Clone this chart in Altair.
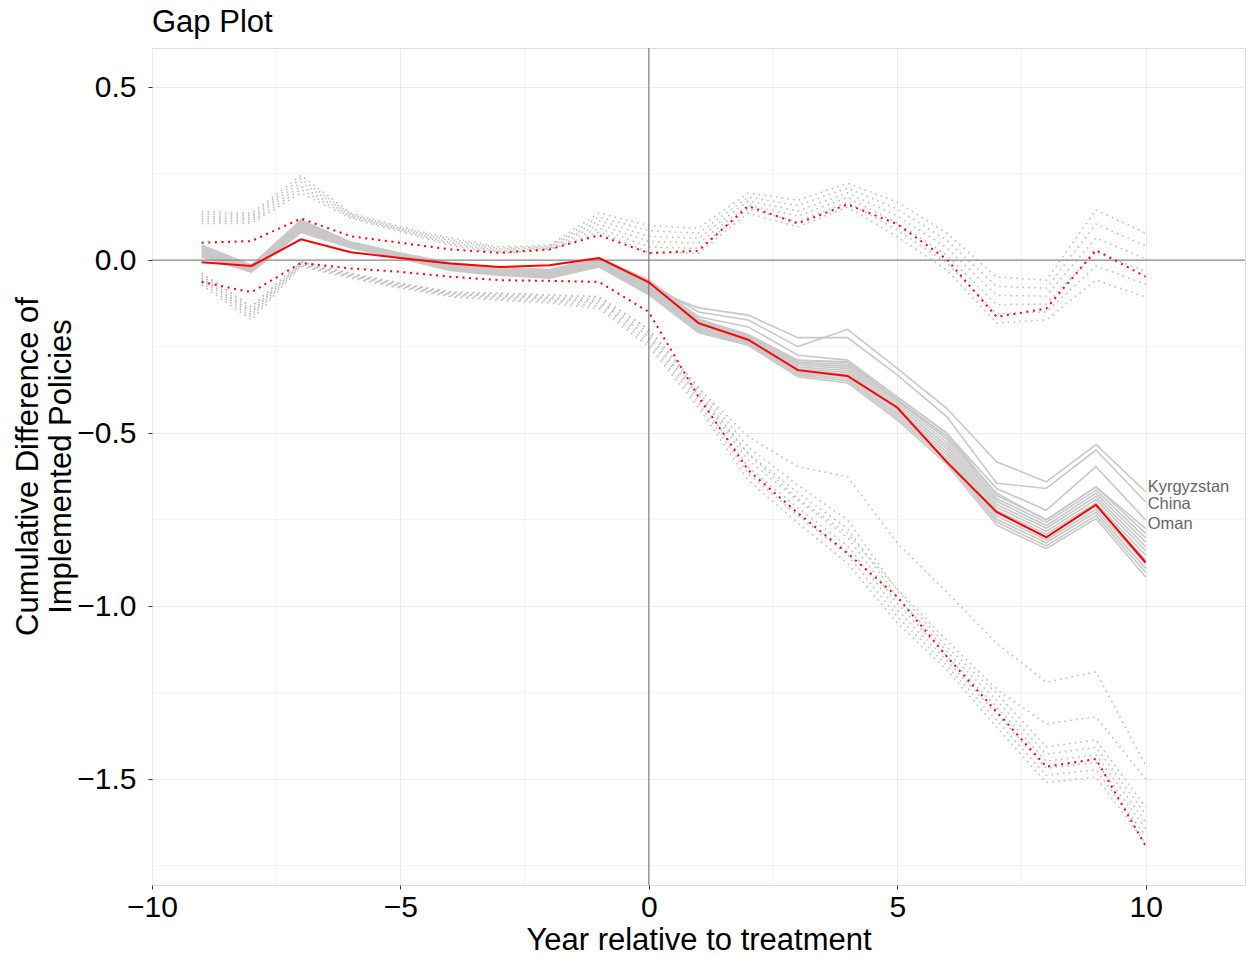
import altair as alt
import pandas as pd

years = list(range(-9, 11))

# main estimate and its interval (red)
red_main = [-0.006, -0.017, 0.060, 0.023, 0.006, -0.010, -0.020, -0.015, 0.006, -0.064,
            -0.182, -0.230, -0.318, -0.335, -0.426, -0.584, -0.728, -0.801, -0.707, -0.874]
red_upper = [0.050, 0.055, 0.120, 0.069, 0.050, 0.031, 0.021, 0.031, 0.072, 0.020,
             0.027, 0.156, 0.106, 0.161, 0.104, 0.002, -0.164, -0.140, 0.029, -0.048]
red_lower = [-0.063, -0.093, -0.008, -0.024, -0.034, -0.048, -0.058, -0.060, -0.063, -0.150,
             -0.395, -0.607, -0.731, -0.847, -0.973, -1.146, -1.305, -1.464, -1.442, -1.693]

# leave-one-out estimates (gray solid)
gray_solid = {
    "s01": [0.043, -0.015, 0.115, 0.052, 0.020, -0.008, -0.022, -0.028, 0.006, -0.058,
            -0.170, -0.215, -0.290, -0.295, -0.395, -0.500, -0.680, -0.750, -0.656, -0.790],
    "s02": [0.040, -0.017, 0.112, 0.050, 0.019, -0.010, -0.024, -0.030, 0.003, -0.062,
            -0.174, -0.218, -0.295, -0.301, -0.402, -0.509, -0.689, -0.758, -0.665, -0.803],
    "s03": [0.036, -0.019, 0.108, 0.049, 0.017, -0.012, -0.026, -0.033, 0.001, -0.066,
            -0.178, -0.221, -0.299, -0.307, -0.408, -0.518, -0.697, -0.767, -0.674, -0.815],
    "s04": [0.033, -0.021, 0.105, 0.047, 0.016, -0.015, -0.029, -0.035, -0.002, -0.071,
            -0.182, -0.224, -0.304, -0.313, -0.415, -0.527, -0.706, -0.775, -0.683, -0.828],
    "s05": [0.029, -0.023, 0.101, 0.045, 0.014, -0.017, -0.031, -0.038, -0.004, -0.075,
            -0.186, -0.227, -0.309, -0.319, -0.422, -0.536, -0.714, -0.784, -0.692, -0.840],
    "s06": [0.026, -0.025, 0.098, 0.044, 0.013, -0.019, -0.033, -0.040, -0.007, -0.079,
            -0.190, -0.231, -0.314, -0.325, -0.429, -0.545, -0.723, -0.792, -0.702, -0.853],
    "s07": [0.023, -0.027, 0.094, 0.042, 0.011, -0.021, -0.035, -0.042, -0.010, -0.083,
            -0.194, -0.234, -0.318, -0.331, -0.435, -0.554, -0.732, -0.800, -0.711, -0.866],
    "s08": [0.019, -0.029, 0.091, 0.040, 0.010, -0.023, -0.037, -0.045, -0.012, -0.087,
            -0.198, -0.237, -0.323, -0.337, -0.442, -0.563, -0.740, -0.809, -0.720, -0.878],
    "s09": [0.016, -0.031, 0.087, 0.038, 0.008, -0.026, -0.040, -0.047, -0.015, -0.092,
            -0.202, -0.240, -0.328, -0.343, -0.449, -0.572, -0.749, -0.817, -0.729, -0.891],
    "s10": [0.012, -0.033, 0.084, 0.037, 0.007, -0.028, -0.042, -0.050, -0.017, -0.096,
            -0.206, -0.243, -0.332, -0.349, -0.455, -0.581, -0.757, -0.826, -0.738, -0.903],
    "s11": [0.009, -0.035, 0.080, 0.035, 0.005, -0.030, -0.044, -0.052, -0.020, -0.100,
            -0.210, -0.246, -0.337, -0.355, -0.462, -0.590, -0.766, -0.834, -0.747, -0.916],
    "Kyrgyzstan": [0.036, -0.019, 0.108, 0.049, 0.017, -0.012, -0.026, -0.033, 0.001, -0.066,
                   -0.150, -0.173, -0.250, -0.200, -0.313, -0.429, -0.583, -0.641, -0.533, -0.670],
    "China": [0.023, -0.027, 0.094, 0.042, 0.011, -0.021, -0.035, -0.042, -0.010, -0.083,
              -0.138, -0.159, -0.224, -0.224, -0.332, -0.453, -0.645, -0.660, -0.549, -0.699],
    "Oman": [0.043, -0.015, 0.115, 0.052, 0.020, -0.008, -0.022, -0.028, 0.006, -0.058,
             -0.164, -0.193, -0.275, -0.289, -0.395, -0.501, -0.660, -0.723, -0.597, -0.751],
    "s15": [0.016, -0.031, 0.087, 0.038, 0.008, -0.026, -0.040, -0.047, -0.015, -0.092,
            -0.173, -0.217, -0.289, -0.294, -0.405, -0.510, -0.674, -0.751, -0.655, -0.776],
}

# leave-one-out intervals (gray dotted)
gray_dotted = {
    "u1": [0.140, 0.135, 0.245, 0.136, 0.096, 0.064, 0.038, 0.043, 0.136, 0.100,
           0.092, 0.194, 0.173, 0.222, 0.168, 0.078, -0.049, -0.058, 0.145, 0.078],
    "u2": [0.133, 0.129, 0.235, 0.133, 0.093, 0.060, 0.034, 0.040, 0.125, 0.085,
           0.078, 0.182, 0.158, 0.208, 0.148, 0.057, -0.076, -0.081, 0.104, 0.041],
    "u3": [0.126, 0.123, 0.225, 0.130, 0.090, 0.056, 0.031, 0.037, 0.114, 0.069,
           0.063, 0.171, 0.142, 0.194, 0.128, 0.035, -0.102, -0.104, 0.064, 0.004],
    "u4": [0.120, 0.118, 0.214, 0.127, 0.088, 0.051, 0.027, 0.035, 0.103, 0.054,
           0.049, 0.159, 0.127, 0.181, 0.107, 0.014, -0.129, -0.127, 0.023, -0.033],
    "u5": [0.113, 0.112, 0.204, 0.124, 0.085, 0.047, 0.024, 0.032, 0.092, 0.038,
           0.034, 0.148, 0.111, 0.167, 0.087, -0.008, -0.155, -0.150, -0.017, -0.070],
    "u6": [0.106, 0.106, 0.194, 0.121, 0.082, 0.043, 0.020, 0.029, 0.081, 0.023,
           0.020, 0.136, 0.096, 0.153, 0.067, -0.029, -0.182, -0.173, -0.058, -0.107],
    "l1": [-0.038, -0.135, -0.005, -0.038, -0.067, -0.092, -0.096, -0.101, -0.106, -0.200,
           -0.367, -0.540, -0.650, -0.751, -0.954, -1.118, -1.252, -1.407, -1.387, -1.581],
    "l2": [-0.045, -0.143, -0.008, -0.041, -0.070, -0.095, -0.100, -0.106, -0.113, -0.210,
           -0.379, -0.559, -0.672, -0.776, -0.973, -1.131, -1.272, -1.428, -1.408, -1.602],
    "l3": [-0.052, -0.150, -0.011, -0.044, -0.073, -0.098, -0.104, -0.110, -0.120, -0.220,
           -0.390, -0.578, -0.694, -0.801, -0.992, -1.145, -1.291, -1.448, -1.430, -1.623],
    "l4": [-0.058, -0.158, -0.013, -0.046, -0.075, -0.100, -0.108, -0.115, -0.126, -0.230,
           -0.402, -0.598, -0.716, -0.826, -1.011, -1.158, -1.311, -1.469, -1.451, -1.643],
    "l5": [-0.065, -0.165, -0.016, -0.049, -0.078, -0.103, -0.112, -0.119, -0.133, -0.240,
           -0.413, -0.617, -0.738, -0.851, -1.030, -1.172, -1.330, -1.489, -1.473, -1.664],
    "l6": [-0.072, -0.173, -0.019, -0.052, -0.081, -0.106, -0.116, -0.124, -0.140, -0.250,
           -0.425, -0.636, -0.760, -0.876, -1.049, -1.185, -1.350, -1.510, -1.494, -1.685],
    "l7": [-0.038, -0.135, -0.005, -0.038, -0.067, -0.092, -0.096, -0.101, -0.106, -0.200,
           -0.370, -0.510, -0.597, -0.626, -0.818, -0.960, -1.107, -1.220, -1.190, -1.460],
    "l8": [-0.052, -0.150, -0.011, -0.044, -0.073, -0.098, -0.104, -0.110, -0.120, -0.220,
           -0.390, -0.560, -0.690, -0.790, -0.950, -1.100, -1.240, -1.340, -1.320, -1.500],
}

label_names = ["Kyrgyzstan", "China", "Oman"]
label_y = [-0.656, -0.705, -0.763]
label_x = [10, 10, 10]

x_ticks = [-10, -5, 0, 5, 10]
y_ticks = [-1.5, -1.0, -0.5, 0.0, 0.5]
x_minor = [-7.5, -2.5, 2.5, 7.5]
y_minor = [-1.75, -1.25, -0.75, -0.25, 0.25]

FONT = "Liberation Sans"


def long(d):
    rows = []
    for name, vals in d.items():
        for yr, v in zip(years, vals):
            rows.append({"series": name, "year": yr, "value": v})
    return pd.DataFrame(rows)


df_solid = long(gray_solid)
df_dotted = long(gray_dotted)
df_red = long({"est": red_main})
df_red_ci = long({"upper": red_upper, "lower": red_lower})
df_labels = pd.DataFrame({"name": label_names, "year": label_x, "value": label_y})

xscale = alt.Scale(domain=[-10, 12], nice=False, zero=False)
yscale = alt.Scale(domain=[-1.806, 0.613], nice=False, zero=False)

xaxis = alt.Axis(values=x_ticks, format="d", title="Year relative to treatment",
                 grid=True, gridColor="#EBEBEB", gridWidth=1.1, domain=False,
                 tickColor="#333333", tickSize=4, tickWidth=1,
                 labelFontSize=30, labelFont=FONT, labelColor="#000000", labelPadding=3,
                 titleFontSize=31, titleFont=FONT, titleFontWeight="normal", titleColor="#000000",
                 titleBaseline="alphabetic", titleY=64, labelFlush=False)
yaxis = alt.Axis(values=y_ticks, format=".1f",
                 title=["Cumulative Difference of", "Implemented Policies"],
                 grid=True, gridColor="#EBEBEB", gridWidth=1.1, domain=False,
                 tickColor="#333333", tickSize=4, tickWidth=1,
                 labelFontSize=30, labelFont=FONT, labelColor="#000000", labelPadding=12,
                 titleFontSize=31, titleFont=FONT, titleFontWeight="normal", titleColor="#000000",
                 titleAngle=-90, titleX=-124, titleY=418, titleAlign="center",
                 titleBaseline="middle", titleLineHeight=33, labelFlush=False)

X = alt.X("year:Q", scale=xscale, axis=xaxis)
Y = alt.Y("value:Q", scale=yscale, axis=yaxis)

minor_x = alt.Chart(pd.DataFrame({"year": x_minor})).mark_rule(
    color="#EBEBEB", strokeWidth=0.6).encode(x=X)
minor_y = alt.Chart(pd.DataFrame({"value": y_minor})).mark_rule(
    color="#EBEBEB", strokeWidth=0.6).encode(y=Y)

dotted = alt.Chart(df_dotted).mark_line(
    color="#BEBEBE", strokeWidth=1.6, strokeDash=[1.6, 4.2]).encode(x=X, y=Y, detail="series:N")
solid = alt.Chart(df_solid).mark_line(
    color="#C8C8C8", strokeWidth=1.6).encode(x=X, y=Y, detail="series:N")

hline = alt.Chart(pd.DataFrame({"value": [0.0]})).mark_rule(
    color="#8A8A8A", strokeWidth=1.3).encode(y=Y)
vline = alt.Chart(pd.DataFrame({"year": [0]})).mark_rule(
    color="#6E6E6E", strokeWidth=1).encode(x=X)

red_ci = alt.Chart(df_red_ci).mark_line(
    color="#FF0000", strokeWidth=2, strokeDash=[2, 4.6]).encode(x=X, y=Y, detail="series:N")
red = alt.Chart(df_red).mark_line(color="#FF0000", strokeWidth=2).encode(x=X, y=Y)

labels = alt.Chart(df_labels).mark_text(
    align="left", baseline="middle", dx=2, fontSize=16.5, font=FONT, color="#666666"
).encode(x=X, y=Y, text="name:N")

chart = alt.layer(minor_x, minor_y, dotted, solid, hline, vline, red_ci, red, labels).properties(
    width=1093, height=837,
    title=alt.TitleParams("Gap Plot", anchor="start", frame="group", fontSize=31, font=FONT,
                          fontWeight="normal", color="#000000", baseline="alphabetic",
                          offset=15, dy=30),
    autosize=alt.AutoSizeParams(type="none"),
    padding={"left": 152, "top": 48, "right": 4, "bottom": 72},
).configure_view(stroke="#333333", strokeWidth=1.2).configure(background="#FFFFFF")

chart.save("out.html", embed_options={"renderer": "svg", "actions": False})
